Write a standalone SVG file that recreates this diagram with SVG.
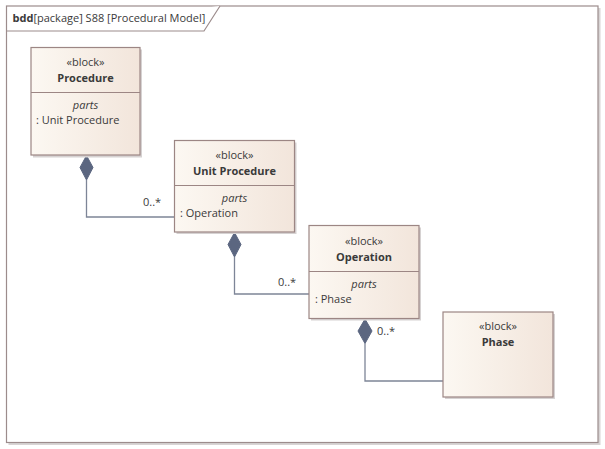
<svg xmlns="http://www.w3.org/2000/svg" width="605" height="449" viewBox="0 0 605 449">
<style>
.frame{fill:#ffffff;stroke:#9c8c8c;stroke-width:1.2}
.box{fill:url(#bg);stroke:#9c8684;stroke-width:1.2}
.shadow{fill:#d6d2d2}
.div{stroke:#9c8684;stroke-width:1.2}
.t{font-family:"Open Sans","Noto Sans",sans-serif;font-size:11px;fill:#3a3a3a}
.c{text-anchor:middle}
.b{font-weight:bold}
.i{font-style:italic}
.conn{fill:none;stroke:#7d8597;stroke-width:1.3}
.dia{fill:#5b6680;stroke:#5b6680;stroke-width:1}
</style>
<defs>
<linearGradient id="bg" x1="0" y1="0" x2="1" y2="0">
<stop offset="0" stop-color="#fcf8f2"/>
<stop offset="1" stop-color="#f2e5db"/>
</linearGradient>
</defs>
<rect x="0" y="0" width="605" height="449" fill="#ffffff"/>
<g id="frame">
<rect x="8.5" y="8" width="592" height="437" fill="#d8d4d4"/>
<rect class="frame" x="6.5" y="6" width="591.5" height="436.5"/>
<path class="frame" d="M6.5 31 H204 L220 6" fill="none"/>
<text class="t" x="12.5" y="22"><tspan class="b">bdd</tspan>[package] S88 [Procedural Model]</text>
</g>
<g id="connectors">
<path class="conn" d="M86.5 180 V217 H175"/>
<polygon class="dia" points="86.5,155.5 93,167.5 86.5,180 80,167.5"/>
<text class="t" x="143" y="206">0..*</text>
<path class="conn" d="M234.5 257 V294 H309"/>
<polygon class="dia" points="234.5,232.5 241,244.5 234.5,257 228,244.5"/>
<text class="t" x="278" y="286">0..*</text>
<path class="conn" d="M365 343.5 V381 H443"/>
<polygon class="dia" points="365,319 372,331 365,343.5 358,331"/>
<text class="t" x="377" y="335">0..*</text>
</g>
<g id="procedure">
<rect class="shadow" x="33" y="49.5" width="109" height="108"/>
<rect class="box" x="31" y="47.5" width="109" height="107.5"/>
<line class="div" x1="31" y1="92.5" x2="140" y2="92.5"/>
<text class="t c" x="85.5" y="66">«block»</text>
<text class="t c b" x="85.5" y="82">Procedure</text>
<text class="t c i" x="85.5" y="109">parts</text>
<text class="t" x="36" y="124">: Unit Procedure</text>
</g>
<g id="unit-procedure">
<rect class="shadow" x="176.5" y="142.5" width="120" height="91.5"/>
<rect class="box" x="174.5" y="140.5" width="120" height="91.5"/>
<line class="div" x1="174.5" y1="185.5" x2="294.5" y2="185.5"/>
<text class="t c" x="234.5" y="159">«block»</text>
<text class="t c b" x="234.5" y="175">Unit Procedure</text>
<text class="t c i" x="234.5" y="202">parts</text>
<text class="t" x="180" y="217">: Operation</text>
</g>
<g id="operation">
<rect class="shadow" x="311" y="227.5" width="110" height="93"/>
<rect class="box" x="309" y="225.5" width="110" height="93"/>
<line class="div" x1="309" y1="271.5" x2="419" y2="271.5"/>
<text class="t c" x="364" y="245">«block»</text>
<text class="t c b" x="364" y="261">Operation</text>
<text class="t c i" x="364" y="288">parts</text>
<text class="t" x="315" y="303">: Phase</text>
</g>
<g id="phase">
<rect class="shadow" x="445" y="314" width="110" height="85"/>
<rect class="box" x="443" y="312" width="110" height="85"/>
<text class="t c" x="498" y="330">«block»</text>
<text class="t c b" x="498" y="346">Phase</text>
</g>
</svg>
